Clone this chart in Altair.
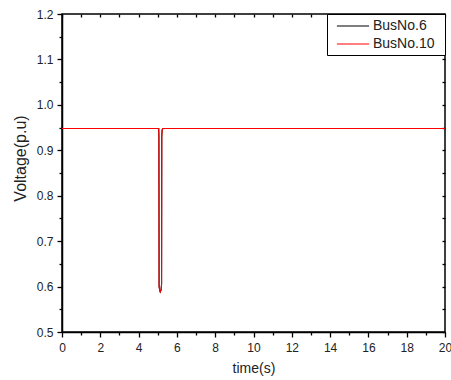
import altair as alt
import pandas as pd

# ---- data ----
time_s = [0, 5.05, 5.06, 5.07, 5.10, 5.13, 5.17, 5.20, 5.21, 5.23, 5.27, 20]
bus6 = [0.948, 0.948, 0.93, 0.60, 0.592, 0.588, 0.592, 0.605, 0.93, 0.945, 0.948, 0.948]
bus10 = [0.948, 0.948, 0.93, 0.60, 0.592, 0.588, 0.592, 0.605, 0.93, 0.945, 0.948, 0.948]
series_names = ["BusNo.6", "BusNo.10"]
series_colors = ["#000000", "#ff0000"]
x_ticks = [0, 1, 2, 3, 4, 5, 6, 7, 8, 9, 10, 11, 12, 13, 14, 15, 16, 17, 18, 19, 20]
y_ticks = [0.5, 0.55, 0.6, 0.65, 0.7, 0.75, 0.8, 0.85, 0.9, 0.95, 1.0, 1.05, 1.1, 1.15, 1.2]

rows = []
for name, vals in zip(series_names, [bus6, bus10]):
    for t, v in zip(time_s, vals):
        rows.append({"time": t, "voltage": v, "series": name})
df = pd.DataFrame(rows)

FONT = "Liberation Sans"
x_major = "datum.value % 2 == 0"
y_major = "abs(datum.value*10 - round(datum.value*10)) < 0.001"

xscale = alt.Scale(domain=[0, 20], nice=False, zero=False)
yscale = alt.Scale(domain=[0.5, 1.2], nice=False, zero=False)

x_axis = alt.Axis(
    orient="bottom", values=x_ticks, title="time(s)", grid=False,
    labelExpr=f"{x_major} ? datum.label : ''",
    tickSize={"condition": {"test": x_major, "value": 5}, "value": 3},
    labelOverlap=False, labelFlush=False, labelPadding=5,
    titlePadding=8, titleFontSize=14, titleFontWeight="normal",
)
y_axis = alt.Axis(
    orient="left", values=y_ticks, title="Voltage(p.u)", format=".1f", grid=False,
    labelExpr=f"{y_major} ? datum.label : ''",
    tickSize={"condition": {"test": y_major, "value": 5}, "value": 3},
    labelOverlap=False, labelFlush=False, labelPadding=4,
    titlePadding=8, titleFontSize=16, titleFontWeight="normal", titleY=144,
)

color = alt.Color(
    "series:N",
    scale=alt.Scale(domain=series_names, range=series_colors),
    legend=alt.Legend(
        orient="top-right", offset=0,
        title="\u00a0", titleOrient="right", titleFontSize=1, titlePadding=7,
        strokeColor="black", fillColor="white", padding=4,
        symbolType="M-2.3,0H2.3", symbolSize=196, symbolStrokeWidth=1.2,
        symbolOffset=14, labelOffset=12, rowPadding=3,
        labelFont=FONT, labelFontSize=14, labelColor="#222222",
    ),
)

base = alt.Chart(df).encode(
    x=alt.X("time:Q", scale=xscale, axis=x_axis),
    y=alt.Y("voltage:Q", scale=yscale, axis=y_axis),
    color=color,
)
line6 = base.transform_filter(alt.datum.series == "BusNo.6").mark_line(strokeWidth=1.1)
line10 = base.transform_filter(alt.datum.series == "BusNo.10").mark_line(strokeWidth=1.1)

mirror = alt.Chart(df).mark_line(opacity=0).encode(
    x=alt.X("time:Q", scale=xscale, axis=alt.Axis(
        orient="top", values=x_ticks, labels=False, domain=False, grid=False,
        tickSize=3, offset=-3, title=None)),
    y=alt.Y("voltage:Q", scale=yscale, axis=alt.Axis(
        orient="right", values=y_ticks, labels=False, domain=False, grid=False,
        tickSize=3, offset=-3, title=None)),
)

chart = alt.layer(alt.layer(line6, line10), mirror).resolve_scale(
    x="independent", y="independent"
).properties(
    width=383, height=318,
    autosize=alt.AutoSizeParams(type="none"),
    padding={"left": 62, "top": 14, "right": 6, "bottom": 48},
    background="white",
).configure_view(
    stroke="black", strokeWidth=1.5
).configure_axis(
    grid=False, domainColor="black", domainWidth=1.5,
    tickColor="black", tickWidth=1.3,
    labelFont=FONT, labelFontSize=12, labelColor="#222222",
    titleFont=FONT, titleFontWeight="normal", titleColor="#222222",
)

chart.save("out.html", embed_options={"renderer": "svg", "actions": False})
